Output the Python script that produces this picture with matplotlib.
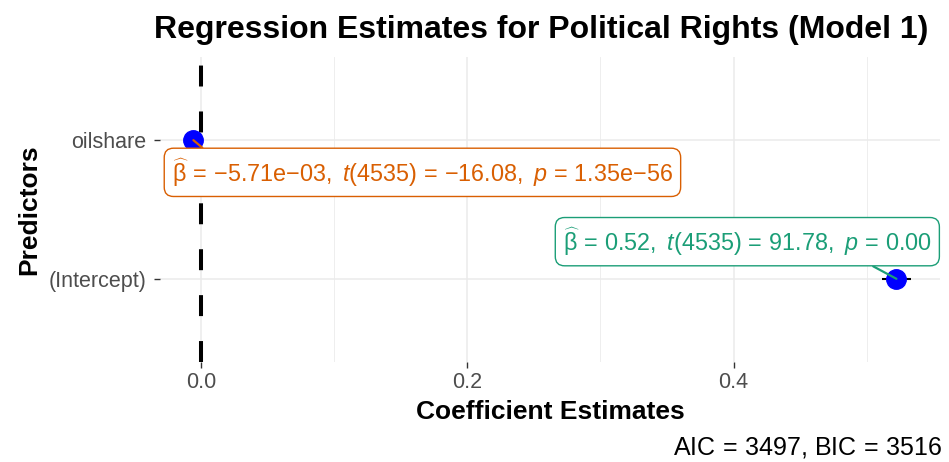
import matplotlib
matplotlib.use("Agg")
import matplotlib.pyplot as plt
import numpy as np

plt.rcParams["font.family"] = ["Liberation Sans", "DejaVu Sans"]
plt.rcParams["mathtext.fontset"] = "custom"
plt.rcParams["mathtext.rm"] = "Liberation Sans"
plt.rcParams["mathtext.it"] = "Liberation Sans:italic"
plt.rcParams["mathtext.bf"] = "Liberation Sans:bold"

# Model output
terms = ["(Intercept)", "oilshare"]
estimates = [0.5223, -0.00571]
std_errors = [0.00569, 0.000355]
t_values = [91.78, -16.08]
p_values = [0.0, 1.35e-56]
df_resid = 4535
aic, bic = 3497, 3516
label_colors = ["#1B9E77", "#D95F02"]
# label box centres (data coordinates) and where the leader meets the box
label_x = [0.4103, 0.1663]
label_y = [1.268, 1.768]
leader_rel = [(0.8, 0.0), (0.08, 1.0)]


def fmt(v):
    if v != 0 and abs(v) < 0.01:
        mant, ex = f"{v:.2e}".split("e")
        sign = "-" if ex[0] == "-" else "+"
        s = f"{mant}e{{{sign}}}{ex[1:]}"
    else:
        s = f"{v:.2f}"
    s = s.replace("-", "{-}") if s.startswith("-") else s
    return r"\mathrm{" + s + "}"


fig = plt.figure(figsize=(9.49, 4.62), dpi=100)
ax = fig.add_axes([160 / 949, 100 / 462, 780 / 949, 305 / 462])

ypos = np.arange(1, len(terms) + 1)
ax.set_xlim(-0.0308, 0.555)
ax.set_ylim(0.4, 2.6)

ax.set_xticks([0.0, 0.2, 0.4])
ax.set_xticklabels(["0.0", "0.2", "0.4"])
ax.set_xticks([0.1, 0.3, 0.5], minor=True)
ax.set_yticks(ypos)
ax.set_yticklabels(terms)
ax.grid(True, which="major", color="#EBEBEB", linewidth=1.1)
ax.grid(True, which="minor", axis="x", color="#EBEBEB", linewidth=0.6)
ax.tick_params(axis="both", which="major", length=4, width=1.0, color="#333333",
               labelcolor="#4D4D4D", labelsize=15.5, pad=3)
ax.tick_params(axis="y", which="major", pad=6)
ax.tick_params(axis="x", which="minor", length=0)
for s in ax.spines.values():
    s.set_visible(False)
ax.set_axisbelow(True)

ax.axvline(0, color="black", linewidth=2.9, linestyle=(0, (5.2, 6.2)), zorder=2)

ci = 1.96 * np.array(std_errors)
ax.errorbar(estimates, ypos, xerr=ci, fmt="none", ecolor="black", elinewidth=1.5,
            capsize=0, zorder=3)
ax.plot(estimates, ypos, "o", color="#0000FF", markersize=14, zorder=4)

for i in range(len(terms)):
    txt = (r"$\widehat{\mathrm{\beta}}\,=\," + fmt(estimates[i]) + r",\ \mathit{t}(" +
           str(df_resid) + r")\,=\," + fmt(t_values[i]) + r",\ \mathit{p}\,=\," +
           fmt(p_values[i]) + r"$")
    ax.annotate(txt, xy=(estimates[i], ypos[i]), xytext=(label_x[i], label_y[i]),
                ha="center", va="center", fontsize=16.8, color=label_colors[i],
                bbox=dict(boxstyle="round,pad=0.33,rounding_size=0.4", fc="white",
                          ec=label_colors[i], lw=1.0),
                arrowprops=dict(arrowstyle="-", color=label_colors[i], lw=1.6,
                                shrinkA=0, shrinkB=0, relpos=leader_rel[i]),
                zorder=5)

ax.set_xlabel("Coefficient Estimates", fontsize=19, fontweight="bold", labelpad=5)
ax.set_ylabel("Predictors", fontsize=19, fontweight="bold", labelpad=5)

fig.text(541 / 949, 1 - 30 / 462, "Regression Estimates for Political Rights (Model 1)",
         ha="center", va="center", fontsize=23, fontweight="bold")
fig.text(942 / 949, 1 - 447 / 462, f"AIC$\\,=\\,${aic}, BIC$\\,=\\,${bic}",
         ha="right", va="center", fontsize=18)

fig.savefig("out.png", dpi=100)
